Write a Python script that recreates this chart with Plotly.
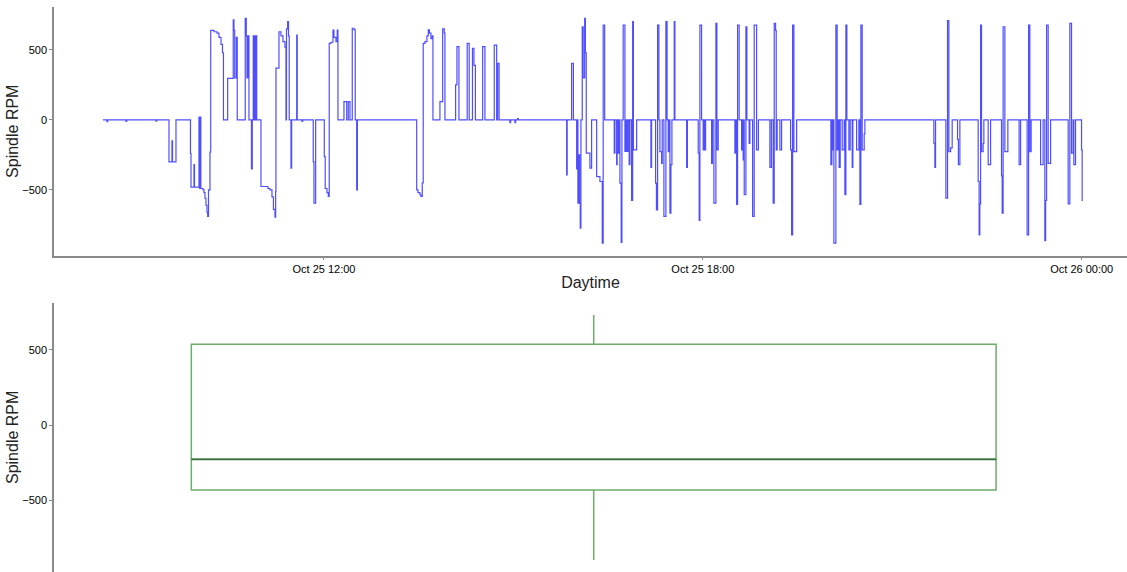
import pandas as pd
import plotly.graph_objects as go
from plotly.subplots import make_subplots

# Spindle speed log for one shift (clock time on Oct 25, RPM held until the next sample)
clock = [
    "08:30:00", "08:33:51", "08:34:30", "08:51:54", "08:52:36", "09:20:24", "09:21:06",
    "09:32:45", "09:35:36", "09:36:06", "09:39:24",
    "09:53:10", "09:53:40", "09:56:30", "09:57:00", "10:01:15", "10:01:55", "10:02:30", "10:03:00",
    "10:05:03", "10:06:00", "10:06:57", "10:07:54", "10:08:51", "10:09:30",
    "10:10:18", "10:11:42", "10:12:24", "10:15:30", "10:18:21", "10:20:15", "10:22:09", "10:23:36", "10:24:30",
    "10:28:30", "10:33:48", "10:34:30", "10:35:12", "10:36:42", "10:37:36",
    "10:45:12", "10:46:12", "10:46:51", "10:47:48", "10:48:45", "10:51:06", "10:51:54",
    "10:52:48", "10:53:30", "10:54:12", "10:54:42", "10:55:24", "10:56:06",
    "11:00:09", "11:06:48", "11:08:42", "11:10:36", "11:12:00", "11:13:27", "11:14:06",
    "11:14:24", "11:17:15", "11:19:09", "11:21:03", "11:22:57", "11:23:54", "11:24:24", "11:25:30", "11:26:18", "11:27:00", "11:28:39", "11:29:18",
    "11:34:06", "11:34:36", "11:39:06", "11:39:48", "11:49:48", "11:50:30", "11:52:06",
    "12:00:18", "12:01:12", "12:02:51", "12:04:06", "12:05:00", "12:06:39", "12:08:33", "12:09:30", "12:11:24", "12:12:36", "12:13:18",
    "12:19:00", "12:21:36", "12:23:06", "12:24:42", "12:26:54", "12:28:30", "12:29:42", "12:31:06", "12:31:48",
    "13:28:06", "13:29:18", "13:31:12", "13:32:09", "13:33:24", "13:34:18", "13:35:57", "13:37:51", "13:39:06", "13:40:12", "13:41:39", "13:42:54", "13:43:33",
    "13:50:12", "13:52:48", "13:54:18", "13:54:57", "14:05:06", "14:06:21", "14:08:15", "14:16:06", "14:18:00",
    "14:21:06", "14:22:30", "14:23:54", "14:30:48", "14:32:57", "14:41:48", "14:44:06", "14:45:00", "14:46:24",
    "14:56:42", "14:57:24", "15:01:27", "15:02:06", "15:04:00", "15:04:36",
    "15:50:36", "15:51:06", "15:55:18", "15:57:00",
    "16:00:06", "16:00:48", "16:01:18", "16:02:15", "16:02:54", "16:03:30", "16:04:09", "16:05:24", "16:06:18", "16:07:42", "16:08:24", "16:09:12", "16:12:42", "16:14:18",
    "16:19:06", "16:22:12", "16:24:24", "16:25:18", "16:26:42",
    "16:35:48", "16:36:27", "16:38:06", "16:38:36", "16:39:36", "16:40:15", "16:41:12", "16:42:24", "16:43:06",
    "16:44:18", "16:45:57", "16:46:54", "16:47:51", "16:48:48", "16:50:00", "16:50:42", "16:52:18", "16:53:18", "16:54:00", "16:57:06",
    "17:10:39", "17:11:18", "17:15:06", "17:15:54", "17:17:00", "17:18:15", "17:19:12", "17:20:48", "17:21:24",
    "17:23:00", "17:24:54", "17:26:00", "17:27:06", "17:28:12", "17:28:42", "17:29:39", "17:30:36", "17:32:48", "17:33:27",
    "17:44:36", "17:45:18", "17:55:36", "17:56:30", "17:57:12", "17:58:48", "18:00:18", "18:01:00", "18:01:57", "18:02:36",
    "18:08:18", "18:09:06", "18:10:30", "18:12:24", "18:13:21", "18:14:36",
    "18:30:27", "18:31:24", "18:32:06", "18:33:00", "18:34:30", "18:36:48", "18:37:36", "18:38:18", "18:38:48", "18:39:18", "18:40:54", "18:41:51",
    "18:44:00", "18:44:42", "18:47:18", "18:48:48", "18:51:06", "18:52:48",
    "19:03:42", "19:05:06", "19:06:48", "19:07:48", "19:09:06", "19:09:42", "19:10:36", "19:13:12", "19:14:48",
    "19:23:24", "19:24:18", "19:25:18", "19:26:30", "19:29:06",
    "20:01:39", "20:02:36", "20:02:54", "20:03:33", "20:04:30", "20:06:24", "20:07:36", "20:08:36", "20:09:30", "20:10:30",
    "20:12:24", "20:14:18", "20:14:57", "20:15:54", "20:16:51", "20:18:45", "20:20:00", "20:21:54", "20:22:33",
    "20:26:06", "20:28:15", "20:29:12", "20:30:09", "20:31:24", "20:33:18", "20:33:57",
    "21:39:30", "21:40:27", "21:41:06", "21:50:54", "21:52:30", "21:53:45", "21:55:24", "21:56:54", "22:02:00", "22:02:48", "22:04:12",
    "22:21:36", "22:22:30", "22:23:12", "22:23:54", "22:24:48", "22:26:18", "22:27:00", "22:31:06", "22:33:24",
    "22:43:48", "22:44:24", "22:45:18", "22:46:57", "22:49:48", "23:00:30", "23:01:54",
    "23:08:06", "23:09:30", "23:10:42", "23:11:54", "23:20:54", "23:23:18", "23:24:57", "23:25:42", "23:26:36", "23:28:06", "23:30:24",
    "23:47:06", "23:48:42", "23:50:18", "23:51:48", "23:52:30", "23:54:06", "23:59:48", "24:00:24", "24:01:00",
]
rpm = [
    0, -12, 0, -10, 0, -8, 0,
    -300, -150, -300, 0,
    -240, -480, -320, -480, 20, -490, 20, -490,
    -500, -520, -560, -610, -660, -690,
    -500, -230, 640, 630, 620, 590, 540, 480, 0,
    297, 715, 640, 300, 590, 0,
    725, 600, 300, 600, 0, -350, 0,
    600, 0, 600, 0, 600, 0,
    -476, -490, -500, -550, -640, -695, -510,
    370, 630, 600, 560, 520, 0, 650, 702, 600, 0, -345, 0,
    607, 0, -10, 0, -300, -595, 0,
    -262, -490, -520, -547, 547, 555, 642, 590, 560, 642, 0,
    131, 0, 131, 0, 655, 645, 0, -500, 0,
    -500, -520, -535, -547, -450, 547, 560, 600, 643, 620, 580, 600, 0,
    131, 650, 620, 0, 250, 524, 0, 547, 0,
    512, 390, 0, 524, 0, 535, 0, 405, 0,
    -20, 0, -20, 0, 10, 0,
    -393, 0, 405, 0,
    -350, 0, -595, -250, -595, -773, 0, 666, 300, 726, 480, -238, -345, 0,
    -405, -440, -881, 678, 0,
    -238, 0, -320, 0, -238, 0, -452, -876, 0,
    678, -225, 0, -225, 0, -320, 0, -576, 702, -214, 0,
    -340, 0, -452, -643, 678, 0, -226, -310, 0,
    -690, 702, 0, -226, 0, -666, -320, 0, 702, 0,
    -340, 0, -238, -719, 678, 0, -214, 0, -214, 0,
    -310, 0, -595, 690, -214, 0,
    -238, 0, -604, 678, 0, -214, 0, -285, 0, -535, 666, 0,
    -167, 0, -690, 678, -214, 0,
    -340, 0, -595, 690, 640, -214, 0, -214, 0,
    -214, -821, 678, -226, 0,
    -320, 0, -214, 0, -881, 678, -214, 0, -340, 0,
    -214, 0, -535, 678, 0, -214, 0, -340, 0,
    -214, 0, -604, 678, -214, -100, 0,
    -167, -340, 0, -559, 709, -226, -200, 0, -140, -320, 0,
    -440, -821, -600, 678, -226, -167, 0, -320, 0,
    -400, -666, 666, -226, 0, -320, 0,
    -821, 678, -226, 0, -320, 0, -862, -575, 678, -310, 0,
    -600, 690, -238, 0, -320, 0, -214, -576, -576,
]
assert len(clock) == len(rpm)

# Box-plot summary of the spindle speed
box_q1 = [-430]
box_median = [-226]
box_q3 = [538]
box_low = [-894]
box_high = [732]

day = pd.Timestamp("2019-10-25")
stamps = day + pd.to_timedelta(clock)

tick_times = [day + pd.Timedelta(hours=12), day + pd.Timedelta(hours=18), day + pd.Timedelta(hours=24)]
x_start = day + pd.Timedelta(hours=7, minutes=43, seconds=30)
x_end = day + pd.Timedelta(hours=24, minutes=43)

W, H = 1127, 572
fig = make_subplots(rows=2, cols=1, vertical_spacing=0.0)

fig.add_trace(go.Scatter(
    x=stamps, y=rpm, mode="lines", line_shape="hv",
    line=dict(color="rgba(10,10,255,0.72)", width=1.2),
    showlegend=False, hoverinfo="x+y",
), row=1, col=1)

box_w = 0.75
fig.add_trace(go.Box(
    x=[0], q1=box_q1, median=box_median, q3=box_q3,
    lowerfence=box_low, upperfence=box_high,
    width=box_w, whiskerwidth=0, fillcolor="rgba(0,0,0,0)",
    line=dict(color="rgba(80,160,80,0.85)", width=1.5),
    showlegend=False, boxpoints=False,
), row=2, col=1)
# darker median stroke drawn over the box
fig.add_trace(go.Scatter(
    x=[-box_w / 2, box_w / 2], y=[box_median[0], box_median[0]], mode="lines",
    line=dict(color="#3a6e3a", width=1.6), showlegend=False, hoverinfo="skip",
), row=2, col=1)

axis_font = dict(family="Liberation Sans, Arial, sans-serif", size=11, color="#000")
title_font = dict(family="Liberation Sans, Arial, sans-serif", size=16, color="#222")

top = 7
fig.update_layout(
    width=W, height=H,
    margin=dict(l=54, r=0, t=top, b=0),
    plot_bgcolor="white", paper_bgcolor="white",
)
fig.update_layout(
    xaxis=dict(domain=[0, 1], range=[x_start, x_end], tickvals=tick_times,
               tickformat="%b %d %H:%M", tickfont=axis_font,
               showgrid=False, zeroline=False, showline=True, linecolor="#8a8a8a", linewidth=1.5,
               ticks="outside", ticklen=3, tickcolor="#8a8a8a",
               title=dict(text="Daytime", font=title_font, standoff=2)),
    yaxis=dict(domain=[(H - 255.5) / (H - top), 1.0], range=[-969, 807],
               tickvals=[-500, 0, 500], tickfont=axis_font,
               showgrid=False, zeroline=False, showline=True, linecolor="#8a8a8a", linewidth=1.5,
               ticks="outside", ticklen=3, tickcolor="#8a8a8a",
               title=dict(text="Spindle RPM", font=title_font, standoff=0)),
    xaxis2=dict(domain=[0, 1], range=[-0.503, 0.497], visible=False),
    yaxis2=dict(domain=[0, (H - 302.7) / (H - top)], range=[-974, 814],
                tickvals=[-500, 0, 500], tickfont=axis_font,
                showgrid=False, zeroline=False, showline=True, linecolor="#8a8a8a", linewidth=1.5,
                ticks="outside", ticklen=3, tickcolor="#8a8a8a",
                title=dict(text="Spindle RPM", font=title_font, standoff=0)),
)

fig.write_html("out.html")
